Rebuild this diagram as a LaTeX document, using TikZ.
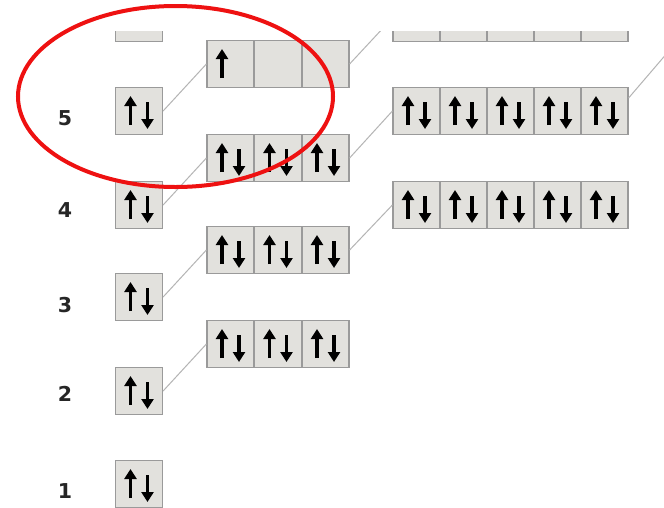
\documentclass[tikz,border=0pt]{standalone}
\usepackage{fontspec}
\setmainfont{Liberation Sans}
\newfontfamily\lvlfont{DejaVu Sans}
\usetikzlibrary{arrows.meta}
\definecolor{cellfill}{HTML}{E2E1DD}
\definecolor{celldraw}{HTML}{9A9A9A}
\definecolor{linkcol}{HTML}{B4B4B4}
\definecolor{labcol}{HTML}{262626}
\definecolor{ringred}{HTML}{EE1111}
\tikzset{
  cell/.style={rectangle, draw=celldraw, fill=cellfill, line width=1.2pt, minimum width=47pt, minimum height=47pt, inner sep=0pt},
  spin/.style={line width=3.2pt, black, -{Triangle[width=12pt,length=10pt]}},
  link/.style={linkcol, line width=1pt},
  lvl/.style={font=\lvlfont\fontsize{20.5}{21}\selectfont\bfseries, text=labcol, inner sep=0pt},
}
\newcommand{\updn}[1]{%
  \draw[spin] ([xshift=-8.5pt,yshift=-14pt]#1.center) -- ([xshift=-8.5pt,yshift=15pt]#1.center);
  \draw[spin] ([xshift=8.5pt,yshift=9pt]#1.center) -- ([xshift=8.5pt,yshift=-18pt]#1.center);}
\newcommand{\upone}[1]{%
  \draw[spin] ([xshift=-8.5pt,yshift=-14pt]#1.center) -- ([xshift=-8.5pt,yshift=15pt]#1.center);}
\begin{document}
\begin{tikzpicture}[x=1pt,y=-1pt]
\useasboundingbox (0,0) rectangle (664,507);
\fill[white] (0,0) rectangle (664,507);
\coordinate (f4) at (674,45);
% s boxes
\node[cell] (s6) at (139,18) {};
\node[cell] (s5) at (139,111) {};
\node[cell] (s4) at (139,205) {};
\node[cell] (s3) at (139,297) {};
\node[cell] (s2) at (139,391) {};
\node[cell] (s1) at (139,484) {};
% p boxes
\foreach \r/\y in {5/64,4/158,3/250,2/344}{
  \node[cell] (p\r a) at (230.5,\y) {};
  \node[cell] (p\r b) at (278,\y) {};
  \node[cell] (p\r c) at (325.5,\y) {};
}
% d boxes
\foreach \r/\y in {5/18,4/111,3/205}{
  \node[cell] (d\r a) at (416.5,\y) {};
  \node[cell] (d\r b) at (463.5,\y) {};
  \node[cell] (d\r c) at (510.5,\y) {};
  \node[cell] (d\r d) at (557.5,\y) {};
  \node[cell] (d\r e) at (604.5,\y) {};
}
% connectors
\draw[link] (s5.east) -- (p5a.west);
\draw[link] (s4.east) -- (p4a.west);
\draw[link] (s3.east) -- (p3a.west);
\draw[link] (s2.east) -- (p2a.west);
\draw[link] (p5c.east) -- (d5a.west);
\draw[link] (p4c.east) -- (d4a.west);
\draw[link] (p3c.east) -- (d3a.west);
\draw[link] ([yshift=13pt]d4e.east) -- (f4);
% electrons
\foreach \n in {s5,s4,s3,s2,s1}{\updn{\n}}
\upone{p5a}
\foreach \n in {p4a,p4b,p4c,p3a,p3b,p3c,p2a,p2b,p2c}{\updn{\n}}
\foreach \n in {d4a,d4b,d4c,d4d,d4e,d3a,d3b,d3c,d3d,d3e}{\updn{\n}}
% top white band
\fill[white] (0,0) rectangle (664,31);
% level labels
\node[lvl] (n5) at (65,118) {5};
\node[lvl] (n4) at (65,210) {4};
\node[lvl] (n3) at (65,305) {3};
\node[lvl] (n2) at (65,394) {2};
\node[lvl] (n1) at (65,491) {1};
% highlight ring
\draw[ringred, line width=4pt] (175.5,96.5) ellipse [x radius=157.5, y radius=90.5];
\end{tikzpicture}
\end{document}
